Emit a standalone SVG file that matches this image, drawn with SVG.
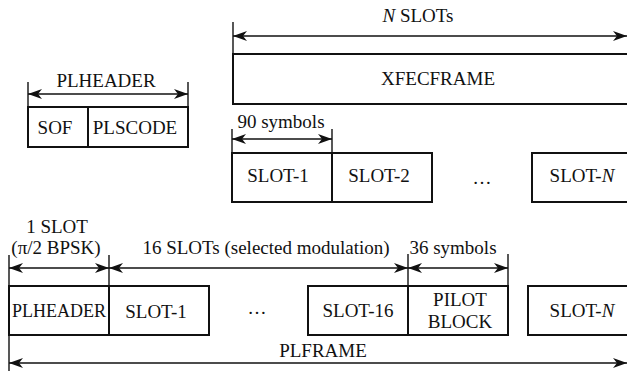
<svg xmlns="http://www.w3.org/2000/svg" width="627" height="371" viewBox="0 0 627 371">
  <style>
    text { font-family: "Liberation Serif", "Tinos", "Times New Roman", "DejaVu Serif", serif; font-size: 19px; fill: #111; text-anchor: middle; }
    .box { fill: #fff; stroke: #111; stroke-width: 2; }
    .dim { fill: none; stroke: #111; stroke-width: 1.4; }
    .tick { fill: none; stroke: #111; stroke-width: 1.4; }
    .arr { marker-start: url(#head); marker-end: url(#head); }
    .it { font-style: italic; }
  </style>
  <defs>
    <marker id="head" viewBox="0 0 14 10" refX="14" refY="5" markerWidth="14" markerHeight="10" markerUnits="userSpaceOnUse" orient="auto-start-reverse">
      <path d="M0,0 L14,5 L0,10 L4,5 Z" fill="#111"/>
    </marker>
  </defs>

  <!-- PLHEADER breakdown -->
  <g id="plheader-sof">
    <rect class="box" x="28" y="107" width="60" height="40"/>
    <text x="55" y="134">SOF</text>
  </g>
  <g id="plheader-plscode">
    <rect class="box" x="88" y="107" width="100" height="40"/>
    <text x="135" y="134">PLSCODE</text>
  </g>

  <!-- XFECFRAME and its slots -->
  <g id="xfecframe">
    <rect class="box" x="233" y="54" width="410" height="50"/>
    <text x="438" y="85">XFECFRAME</text>
  </g>
  <g id="xslot-1">
    <rect class="box" x="232" y="153" width="100" height="49"/>
    <text x="278" y="182">SLOT-1</text>
  </g>
  <g id="xslot-2">
    <rect class="box" x="332" y="153" width="100" height="49"/>
    <text x="379" y="182">SLOT-2</text>
  </g>
  <g id="xslot-dots">
    <text x="482" y="184">…</text>
  </g>
  <g id="xslot-n">
    <rect class="box" x="532" y="153" width="110" height="49"/>
    <text x="582" y="182">SLOT-<tspan class="it">N</tspan></text>
  </g>

  <!-- PLFRAME -->
  <g id="pl-header">
    <rect class="box" x="9" y="286" width="100" height="49"/>
    <text x="59" y="317" style="font-size:18px">PLHEADER</text>
  </g>
  <g id="pl-slot-1">
    <rect class="box" x="109" y="286" width="100" height="49"/>
    <text x="156" y="318">SLOT-1</text>
  </g>
  <g id="pl-dots">
    <text x="257" y="314">…</text>
  </g>
  <g id="pl-slot-16">
    <rect class="box" x="308" y="286" width="100" height="49"/>
    <text x="358" y="317">SLOT-16</text>
  </g>
  <g id="pl-pilot">
    <rect class="box" x="408" y="286" width="100" height="49"/>
    <text x="460" y="306">PILOT</text>
    <text x="460" y="328">BLOCK</text>
  </g>
  <g id="pl-slot-n">
    <rect class="box" x="528" y="286" width="115" height="49"/>
    <text x="582" y="317">SLOT-<tspan class="it">N</tspan></text>
  </g>

  <!-- dimension lines -->
  <g id="connectors">
    <!-- N SLOTs -->
    <line class="tick" x1="233" y1="22" x2="233" y2="54"/>
    <line class="dim arr" x1="233" y1="36" x2="627" y2="36"/>
    <!-- PLHEADER -->
    <line class="tick" x1="28" y1="82" x2="28" y2="107"/>
    <line class="tick" x1="188" y1="82" x2="188" y2="107"/>
    <line class="dim arr" x1="28" y1="94" x2="188" y2="94"/>
    <!-- 90 symbols -->
    <line class="tick" x1="232" y1="129" x2="232" y2="153"/>
    <line class="tick" x1="332" y1="129" x2="332" y2="153"/>
    <line class="dim arr" x1="232" y1="139" x2="332" y2="139"/>
    <!-- PLFRAME segment spans -->
    <line class="tick" x1="9" y1="255" x2="9" y2="371"/>
    <line class="tick" x1="109" y1="255" x2="109" y2="286"/>
    <line class="tick" x1="408" y1="254" x2="408" y2="286"/>
    <line class="tick" x1="508" y1="254" x2="508" y2="286"/>
    <line class="dim arr" x1="9" y1="268" x2="109" y2="268"/>
    <line class="dim arr" x1="109" y1="268" x2="408" y2="268"/>
    <line class="dim arr" x1="408" y1="268" x2="508" y2="268"/>
    <!-- PLFRAME -->
    <line class="dim arr" x1="9" y1="363" x2="627" y2="363"/>
  </g>

  <!-- dimension labels -->
  <g id="labels">
    <text x="418" y="22"><tspan class="it">N</tspan> SLOTs</text>
    <text x="106" y="87">PLHEADER</text>
    <text x="281" y="128">90 symbols</text>
    <text x="57" y="233">1 SLOT</text>
    <text x="56" y="254">(π/2 BPSK)</text>
    <text x="266" y="254">16 SLOTs (selected modulation)</text>
    <text x="453" y="254">36 symbols</text>
    <text x="323" y="357">PLFRAME</text>
  </g>
</svg>
